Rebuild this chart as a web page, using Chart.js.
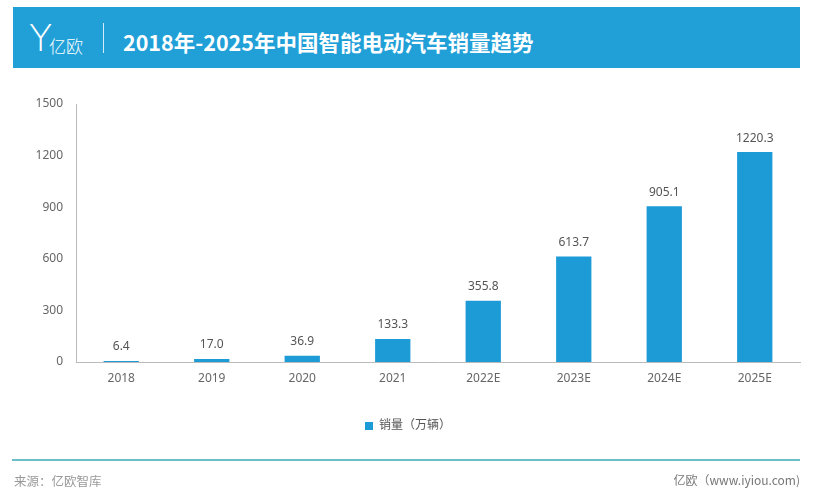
<!DOCTYPE html>
<html>
<head>
<meta charset="utf-8">
<script src="https://cdn.jsdelivr.net/npm/chart.js@4"></script>
<style>
  body { margin: 0; background: #fff; }
  .wrap { position: relative; width: 820px; height: 500px; overflow: hidden; font-family: "Noto Sans CJK SC", "Noto Sans", sans-serif; }
  .header { position: absolute; left: 13px; top: 7px; width: 787px; height: 61px; background: #21a0d8; }
  .logo-y { position: absolute; left: 16px; top: 11px; color: #fff; font: 300 38px/40px "DejaVu Sans", sans-serif; }
  .logo-t { position: absolute; left: 36px; top: 29px; color: #fff; font-size: 17px; font-weight: 300; line-height: 20px; }
  .divider { position: absolute; left: 90px; top: 16px; width: 1px; height: 30px; background: rgba(255,255,255,0.8); }
  .title { position: absolute; left: 110px; top: 20px; color: #fff; font-size: 21.5px; font-weight: bold; line-height: 30px; white-space: nowrap; }
  .footline { position: absolute; left: 12px; top: 459px; width: 788px; height: 2px; background: #6cbfc6; }
  .src { position: absolute; left: 14px; top: 471px; color: #999; font-size: 12.5px; }
  .site { position: absolute; right: 20px; top: 471px; color: #777; font-size: 12px; }
  canvas { position: absolute; left: 0; top: 0; }
</style>
</head>
<body>
<div class="wrap">
  <canvas id="chart" width="820" height="500"></canvas>
  <div class="header">
    <div class="logo-y">Y</div>
    <div class="logo-t">亿欧</div>
    <div class="divider"></div>
    <div class="title">2018年-2025年中国智能电动汽车销量趋势</div>
  </div>
  <div class="footline"></div>
  <div class="src">来源：亿欧智库</div>
  <div class="site">亿欧（www.iyiou.com)</div>
</div>
<script>
const years = ['2018', '2019', '2020', '2021', '2022E', '2023E', '2024E', '2025E'];
const sales = [6.4, 17.0, 36.9, 133.3, 355.8, 613.7, 905.1, 1220.3];
const yTicks = [0, 300, 600, 900, 1200, 1500];

const font = "'Noto Sans', 'Noto Sans CJK SC', sans-serif";

// value labels above bars
const valueLabels = {
    id: 'valueLabels',
    afterDatasetsDraw(chart) {
        const ctx = chart.ctx;
        const meta = chart.getDatasetMeta(0);
        ctx.save();
        ctx.font = '12px ' + font;
        ctx.fillStyle = '#555';
        ctx.textAlign = 'center';
        ctx.textBaseline = 'middle';
        meta.data.forEach((bar, i) => {
            ctx.fillText(sales[i].toFixed(1), bar.x, bar.y - 14);
        });
        ctx.restore();
    }
};

new Chart(document.getElementById('chart'), {
    type: 'bar',
    data: {
        labels: years,
        datasets: [{
            label: '销量（万辆）',
            data: sales,
            backgroundColor: '#1c9bd7',
            categoryPercentage: 1,
            barPercentage: 0.39
        }]
    },
    options: {
        responsive: false,
        animation: false,
        layout: { padding: { top: 104, left: 16, right: 20, bottom: 58 } },
        plugins: {
            legend: {
                position: 'bottom',
                labels: { boxWidth: 8, boxHeight: 8, padding: 10, color: '#555', font: { size: 12, family: font } }
            },
            tooltip: { enabled: false }
        },
        scales: {
            x: {
                grid: { display: false, drawTicks: false },
                border: { color: '#bbb' },
                ticks: { color: '#666', padding: 9, font: { size: 12, family: font } },
                afterFit: s => { s.height = 48; }
            },
            y: {
                min: 0,
                max: 1500,
                grid: { display: false, drawTicks: false },
                border: { color: '#bbb' },
                afterBuildTicks: s => { s.ticks = yTicks.map(v => ({ value: v })); },
                ticks: { color: '#666', padding: 13, font: { size: 12, family: font }, callback: v => String(v) },
                afterFit: s => { s.width = 60; }
            }
        }
    },
    plugins: [valueLabels]
});
</script>
</body>
</html>
